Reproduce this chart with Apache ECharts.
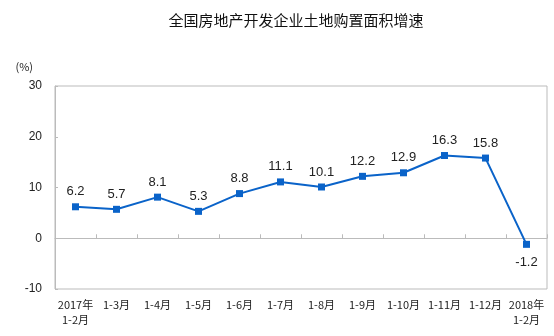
<!DOCTYPE html>
<html><head><meta charset="utf-8">
<script src="https://cdn.jsdelivr.net/npm/echarts@6/dist/echarts.min.js"></script>
<style>html,body{margin:0;padding:0;background:#fff}#c{width:554px;height:336px}</style>
</head><body><div id="c"></div>
<script>
const categories = ['2017年\n1-2月','1-3月','1-4月','1-5月','1-6月','1-7月','1-8月','1-9月','1-10月','1-11月','1-12月','2018年\n1-2月'];
const values = [6.2, 5.7, 8.1, 5.3, 8.8, 11.1, 10.1, 12.2, 12.9, 16.3, 15.8, -1.2];
const titleText = '全国房地产开发企业土地购置面积增速';
const unitText = '(%)';

const font = '"Noto Sans CJK SC", "Liberation Sans", sans-serif';
const chart = echarts.init(document.getElementById('c'), null, {renderer: 'canvas'});
chart.setOption({
  animation: false,
  backgroundColor: '#fff',
  title: {text: titleText, left: 291, top: 8, textAlign: 'center',
    textStyle: {fontFamily: font, fontSize: 15, fontWeight: 'normal', color: '#111'}},
  grid: {left: 55, right: 7, top: 86, bottom: 47, show: true, borderColor: '#bbb', borderWidth: 1},
  xAxis: {type: 'category', data: categories, boundaryGap: true,
    axisLine: {onZero: true, lineStyle: {color: '#bbb'}},
    axisTick: {show: true, inside: true, length: 4, lineStyle: {color: '#bbb'}},
    axisLabel: {fontFamily: font, fontSize: 11, color: '#222', interval: 0, margin: 8, lineHeight: 15},
    position: 'bottom'
  },
  yAxis: {type: 'value', min: -10, max: 30, interval: 10,
    name: unitText, nameLocation: 'end', nameGap: 14,
    nameTextStyle: {fontFamily: font, fontSize: 11, color: '#222', align: 'right', padding: [0, 22, 0, 0]},
    axisLine: {show: true, lineStyle: {color: '#bbb'}},
    axisTick: {show: true, inside: true, length: 3, lineStyle: {color: '#bbb'}},
    splitLine: {show: false},
    axisLabel: {fontFamily: '"Liberation Sans", sans-serif', fontSize: 12, color: '#222', margin: 13}
  },
  series: [{type: 'line',
    data: values.map(v => v < 0 ? {value: v, label: {position: 'bottom', distance: 8}} : v),
    symbol: 'rect', symbolSize: 7,
    lineStyle: {color: '#0a63c9', width: 2}, itemStyle: {color: '#0a63c9'},
    label: {show: true, fontFamily: '"Liberation Sans", sans-serif', fontSize: 13, color: '#222',
      position: 'top', distance: 5}
  }]
});
</script></body></html>
